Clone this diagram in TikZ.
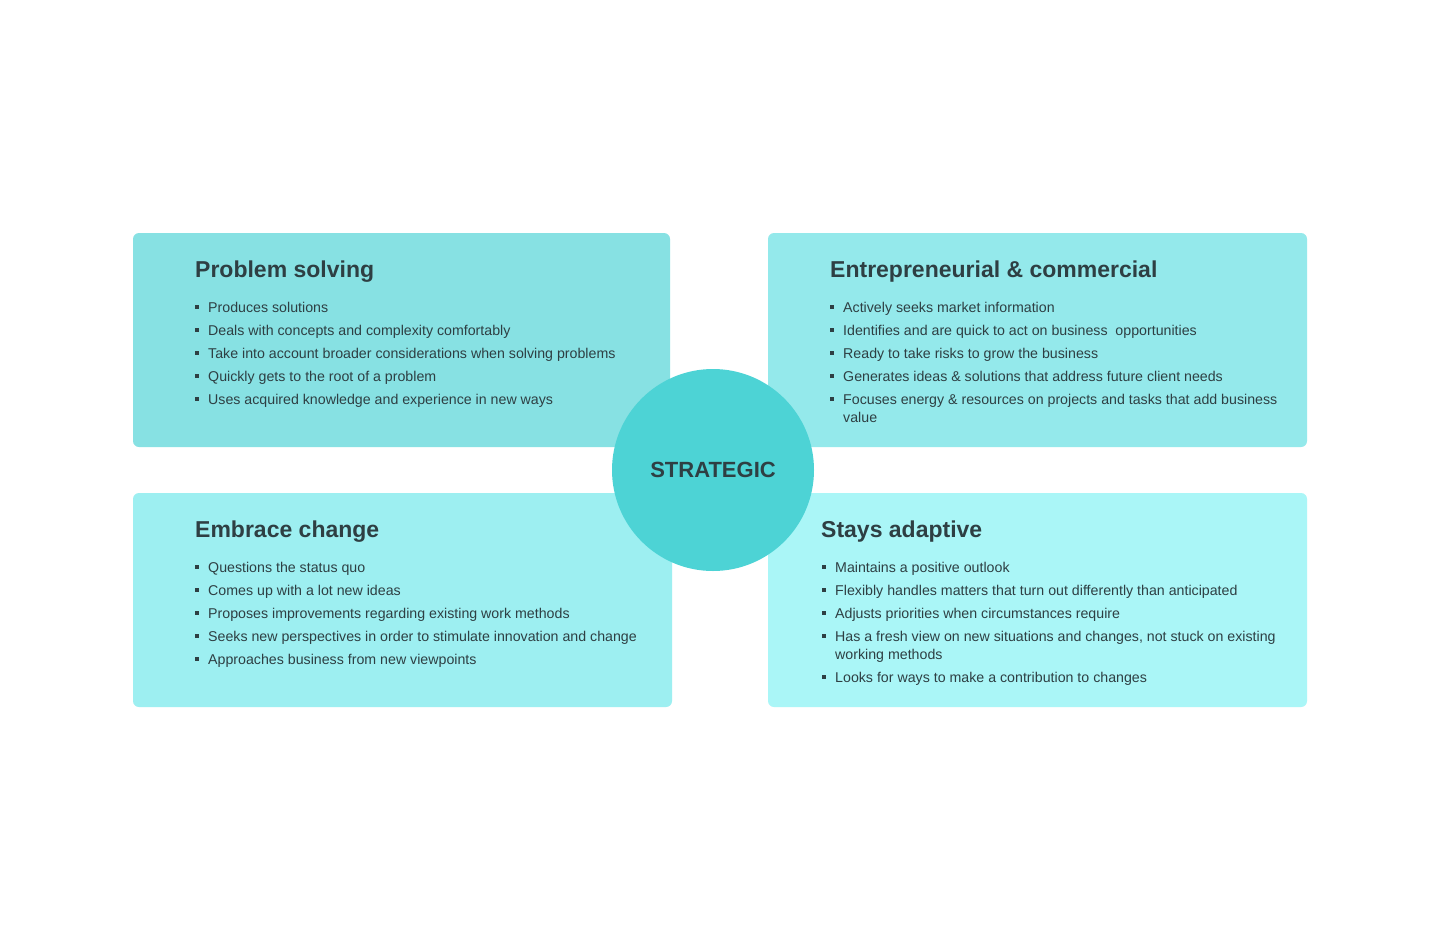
\documentclass[tikz,border=0pt]{standalone}
\usepackage{fontspec}
\setmainfont{Liberation Sans}
\definecolor{txt}{HTML}{2E3F43}
\definecolor{ctl}{HTML}{87E1E3}
\definecolor{ctr}{HTML}{94E9EB}
\definecolor{cbl}{HTML}{9DEFF1}
\definecolor{cbr}{HTML}{AAF6F7}
\definecolor{ccir}{HTML}{4DD3D5}
\tikzset{
 card/.style={rounded corners=6pt},
 ttl/.style={anchor=base west,inner sep=0,text=txt,font=\fontsize{23}{26}\selectfont\bfseries},
 itm/.style={anchor=base west,inner sep=0,text=txt,font=\fontsize{14.2}{17}\selectfont},
}
\newcommand{\bl}[4]{%
 \fill[txt] (#1-1.6,#3+1.6) rectangle (#1+1.6,#3-1.6);
 \node[itm] at (#2,#3+5) {#4};}
\begin{document}
\begin{tikzpicture}[x=1pt,y=-1pt]
\fill[white] (0,0) rectangle (1440,940);
\useasboundingbox (0,0) rectangle (1440,940);
\fill[ctl,card] (133,233) rectangle (670,447);
\fill[ctr,card] (768,233) rectangle (1307,447);
\fill[cbl,card] (133,493) rectangle (672,707);
\fill[cbr,card] (768,493) rectangle (1307,707);
\node[circle,fill=ccir,minimum size=202pt,inner sep=0,text=txt,font=\fontsize{22}{24}\selectfont\bfseries] (c) at (713,470) {STRATEGIC};

\node[ttl] (t1) at (195,277) {Problem solving};
\bl{197}{208}{307}{Produces solutions}
\bl{197}{208}{330}{Deals with concepts and complexity comfortably}
\bl{197}{208}{353}{Take into account broader considerations when solving problems}
\bl{197}{208}{376}{Quickly gets to the root of a problem}
\bl{197}{208}{399}{Uses acquired knowledge and experience in new ways}

\node[ttl] (t2) at (830,277) {Entrepreneurial \& commercial};
\bl{832}{843}{307}{Actively seeks market information}
\bl{832}{843}{330}{Identifies and are quick to act on business\ \ opportunities}
\bl{832}{843}{353}{Ready to take risks to grow the business}
\bl{832}{843}{376}{Generates ideas \& solutions that address future client needs}
\bl{832}{843}{399}{Focuses energy \& resources on projects and tasks that add business}
\node[itm] at (843,422) {value};

\node[ttl] (t3) at (195,537) {Embrace change};
\bl{197}{208}{567}{Questions the status quo}
\bl{197}{208}{590}{Comes up with a lot new ideas}
\bl{197}{208}{613}{Proposes improvements regarding existing work methods}
\bl{197}{208}{636}{Seeks new perspectives in order to stimulate innovation and change}
\bl{197}{208}{659}{Approaches business from new viewpoints}

\node[ttl] (t4) at (821,537) {Stays adaptive};
\bl{824}{835}{567}{Maintains a positive outlook}
\bl{824}{835}{590}{Flexibly handles matters that turn out differently than anticipated}
\bl{824}{835}{613}{Adjusts priorities when circumstances require}
\bl{824}{835}{636}{Has a fresh view on new situations and changes, not stuck on existing}
\node[itm] at (835,659) {working methods};
\bl{824}{835}{677}{Looks for ways to make a contribution to changes}
\end{tikzpicture}
\end{document}
